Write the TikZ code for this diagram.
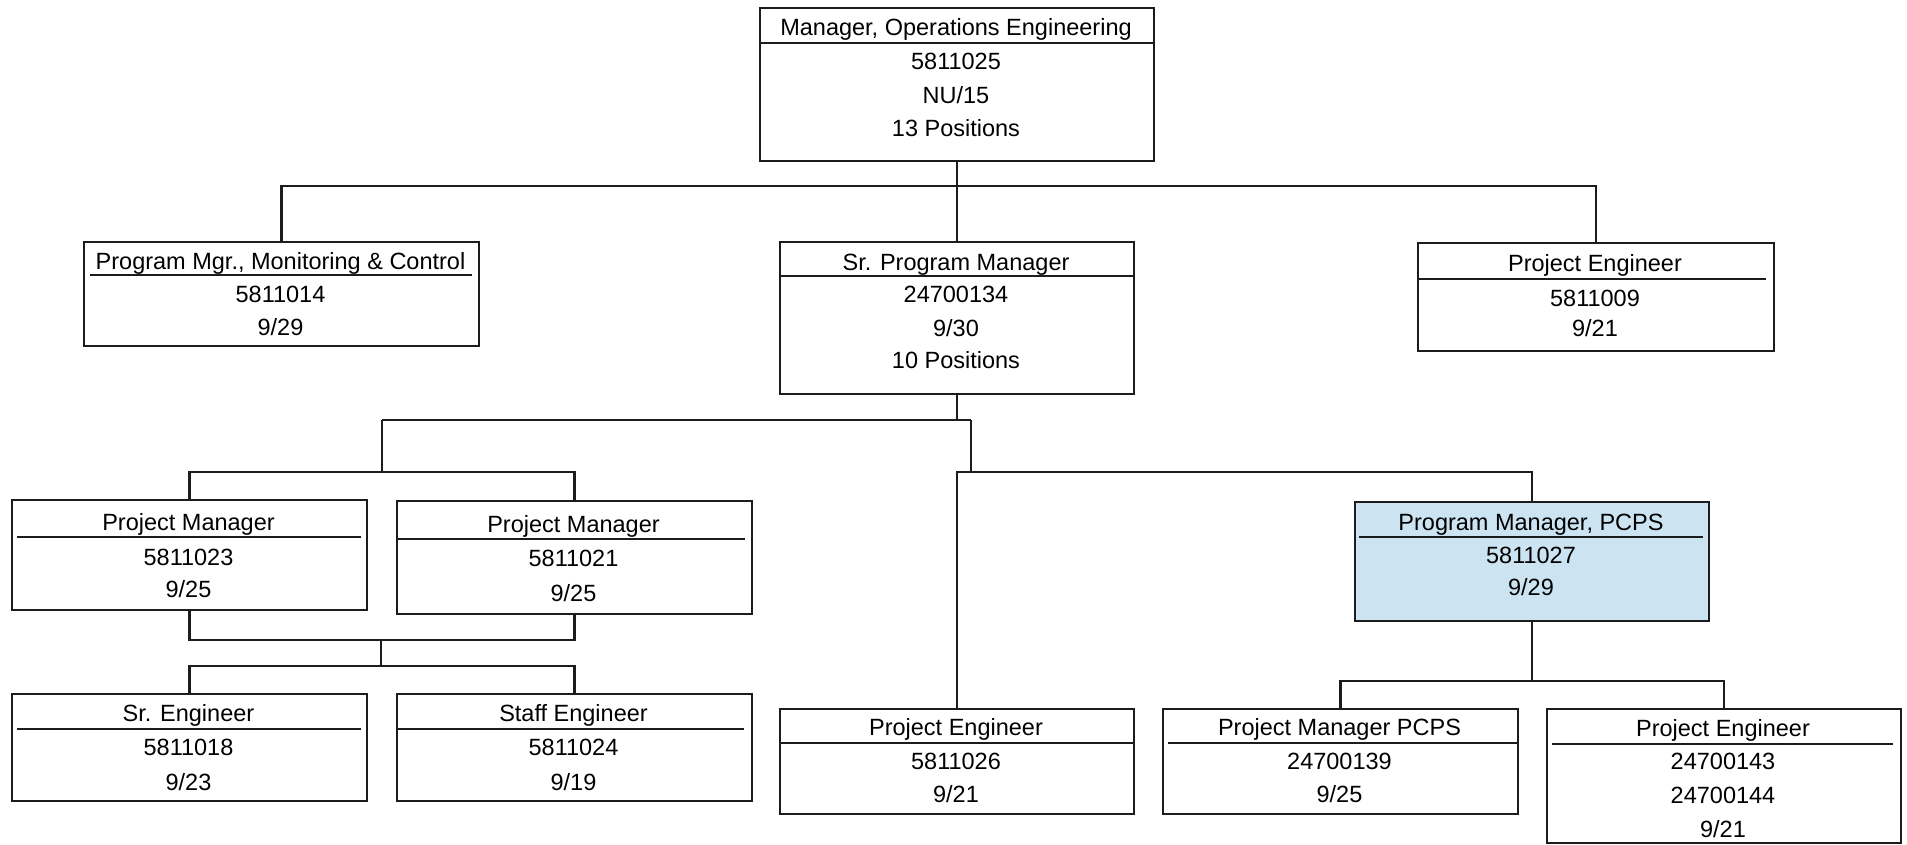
\documentclass[tikz,border=0pt]{standalone}
\usepackage{fontspec}
\setmainfont{Liberation Sans}
\definecolor{ln}{RGB}{28,28,28}
\definecolor{pcpsblue}{RGB}{204,228,242}
\begin{document}
\begin{tikzpicture}[x=1pt,y=-1pt,
  box/.style={draw=ln, line width=2pt, inner sep=0pt, anchor=north west},
  hilite/.style={fill=pcpsblue},
  txt/.style={anchor=base, inner sep=0pt, font=\fontsize{23.5}{28}\selectfont, text=black},
  sep/.style={draw=ln, line width=2.4pt},
  conn/.style={draw=ln, line width=2.2pt}
]
\useasboundingbox (0,0) rectangle (1907,845);

% ---------- boxes ----------
\node[box, minimum width=394, minimum height=153] (top) at (759,7) {};
\node[box, minimum width=395, minimum height=104] (pmc) at (83,241) {};
\node[box, minimum width=354, minimum height=152] (spm) at (779,241) {};
\node[box, minimum width=356, minimum height=108] (pe1) at (1417,242) {};
\node[box, minimum width=355, minimum height=110] (pm1) at (11,499) {};
\node[box, minimum width=355, minimum height=113] (pm2) at (396,500) {};
\node[box, minimum width=355, minimum height=107] (sre) at (11,693) {};
\node[box, minimum width=355, minimum height=107] (ste) at (396,693) {};
\node[box, minimum width=354, minimum height=105] (pe2) at (779,708) {};
\node[box, hilite, minimum width=354, minimum height=119] (pgm) at (1354,501) {};
\node[box, minimum width=355, minimum height=105] (pmp) at (1162,708) {};
\node[box, minimum width=354, minimum height=134] (pe3) at (1546,708) {};

% ---------- header separators ----------
\draw[sep] (759,43) -- (1153,43);
\draw[sep] (90,275) -- (472,275);
\draw[sep] (779,276) -- (1133,276);
\draw[sep] (1417,279) -- (1766,279);
\draw[sep] (17,537) -- (361,537);
\draw[sep] (396,539) -- (745,539);
\draw[sep] (17,729) -- (361,729);
\draw[sep] (396,729) -- (744,729);
\draw[sep] (779,743) -- (1133,743);
\draw[sep] (1359,537) -- (1703,537);
\draw[sep] (1168,743) -- (1517,743);
\draw[sep] (1552,744) -- (1893,744);

% ---------- texts ----------
\node[txt] (top1) at (956,35.5) {Manager, Operations Engineering};
\node[txt] (top2) at (956,69.5) {5811025};
\node[txt] (top3) at (956,103.5) {NU/15};
\node[txt] (top4) at (956,136.5) {13 Positions};

\node[txt] (pmc1) at (280.5,269.5) {Program Mgr., Monitoring \& Control};
\node[txt] (pmc2) at (280.5,302.5) {5811014};
\node[txt] (pmc3) at (280.5,335.5) {9/29};

\node[txt] (spm1) at (956,270.5) {Sr. Program Manager};
\node[txt] (spm2) at (956,302.5) {24700134};
\node[txt] (spm3) at (956,336.5) {9/30};
\node[txt] (spm4) at (956,368.5) {10 Positions};

\node[txt] (pe11) at (1595,271.5) {Project Engineer};
\node[txt] (pe12) at (1595,306.5) {5811009};
\node[txt] (pe13) at (1595,336.5) {9/21};

\node[txt] (pm11) at (188.5,530.5) {Project Manager};
\node[txt] (pm12) at (188.5,565.5) {5811023};
\node[txt] (pm13) at (188.5,597.5) {9/25};

\node[txt] (pm21) at (573.5,532.5) {Project Manager};
\node[txt] (pm22) at (573.5,566.5) {5811021};
\node[txt] (pm23) at (573.5,601.5) {9/25};

\node[txt] (sre1) at (188.5,721.5) {Sr. Engineer};
\node[txt] (sre2) at (188.5,755.5) {5811018};
\node[txt] (sre3) at (188.5,790.5) {9/23};

\node[txt] (ste1) at (573.5,721.5) {Staff Engineer};
\node[txt] (ste2) at (573.5,755.5) {5811024};
\node[txt] (ste3) at (573.5,790.5) {9/19};

\node[txt] (pe21) at (956,735.5) {Project Engineer};
\node[txt] (pe22) at (956,769.5) {5811026};
\node[txt] (pe23) at (956,802.5) {9/21};

\node[txt] (pgm1) at (1531,530.5) {Program Manager, PCPS};
\node[txt] (pgm2) at (1531,563.5) {5811027};
\node[txt] (pgm3) at (1531,595.5) {9/29};

\node[txt] (pmp1) at (1339.5,735.5) {Project Manager PCPS};
\node[txt] (pmp2) at (1339.5,769.5) {24700139};
\node[txt] (pmp3) at (1339.5,802.5) {9/25};

\node[txt] (pe31) at (1723,736.5) {Project Engineer};
\node[txt] (pe32) at (1723,769.5) {24700143};
\node[txt] (pe33) at (1723,803.5) {24700144};
\node[txt] (pe34) at (1723,837.5) {9/21};

% ---------- connector junctions ----------
\coordinate (b1) at (top.south |- 0,186);
\coordinate (b2) at (spm.south |- 0,420);
\coordinate (b2L) at (382,420);
\coordinate (b2R) at (971,420);
\coordinate (b3L) at (382,472);
\coordinate (b3R) at (971,472);
\coordinate (b4) at (381,640);
\coordinate (b5) at (381,666);
\coordinate (b6) at (pgm.south |- 0,681);

% ---------- connectors ----------
\draw[conn] (top.south) -- (b1);
\draw[conn] (pmc.north) |- (b1) -| (pe1.north);
\draw[conn] (b1) -- (spm.north);

\draw[conn] (spm.south) -- (b2);
\draw[conn] (b2L) -- (b2R);
\draw[conn] (b2L) -- (b3L);
\draw[conn] (pm1.north) |- (b3L) -| (pm2.north);
\draw[conn] (b2R) -- (b3R);
\draw[conn] (pe2.north) |- (b3R) -| (pgm.north);

\draw[conn] (pm1.south) |- (b4) -| (pm2.south);
\draw[conn] (b4) -- (b5);
\draw[conn] (sre.north) |- (b5) -| (ste.north);

\draw[conn] (pgm.south) -- (b6);
\draw[conn] (pmp.north) |- (b6) -| (pe3.north);
\end{tikzpicture}
\end{document}
